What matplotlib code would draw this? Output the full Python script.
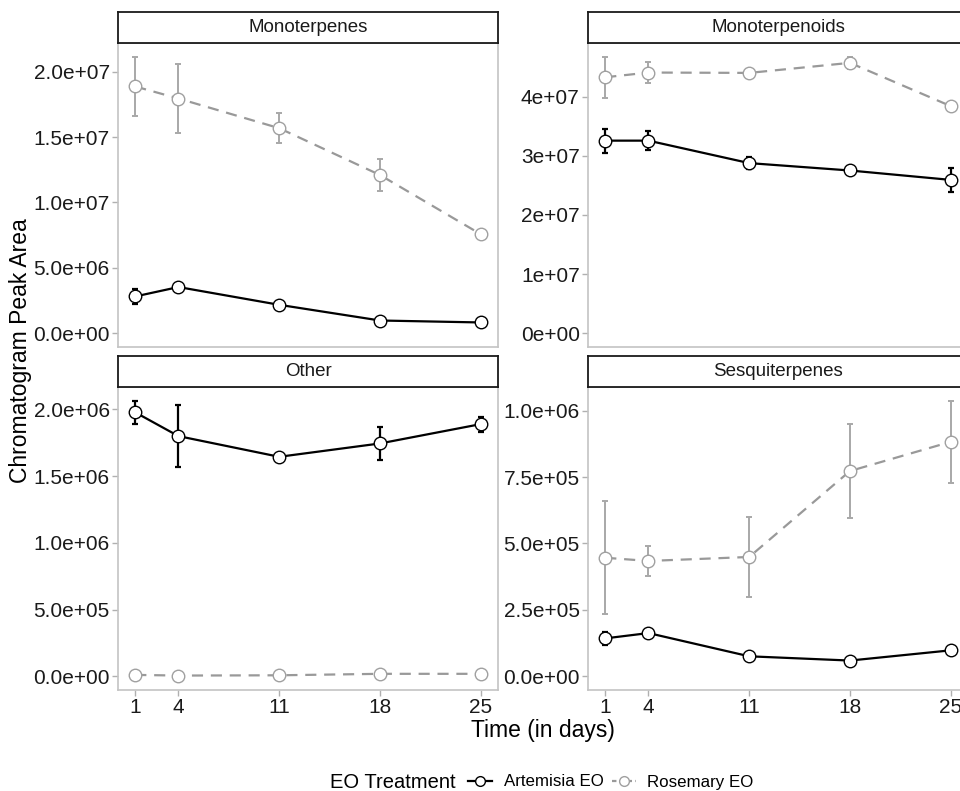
import numpy as np
import matplotlib.pyplot as plt
from matplotlib.lines import Line2D
from matplotlib.ticker import MaxNLocator, FuncFormatter

plt.rcParams['font.family'] = ['Liberation Sans', 'DejaVu Sans']

days = [1, 4, 11, 18, 25]
groups = ["Monoterpenes", "Monoterpenoids", "Other", "Sesquiterpenes"]
treatments = ["Artemisia EO", "Rosemary EO"]

# means and standard errors, per group, per treatment
art_mean = {
    "Monoterpenes":   [2.81e6, 3.53e6, 2.17e6, 0.97e6, 0.82e6],
    "Monoterpenoids": [3.257e7, 3.257e7, 2.877e7, 2.752e7, 2.593e7],
    "Other":          [1.978e6, 1.80e6, 1.645e6, 1.745e6, 1.89e6],
    "Sesquiterpenes": [1.425e5, 1.625e5, 0.75e5, 0.59e5, 0.975e5],
}
art_se = {
    "Monoterpenes":   [0.58e6, 0.12e6, 0.10e6, 0.05e6, 0.04e6],
    "Monoterpenoids": [0.204e7, 0.165e7, 0.102e7, 0.03e7, 0.204e7],
    "Other":          [0.087e6, 0.233e6, 0.01e6, 0.126e6, 0.057e6],
    "Sesquiterpenes": [0.245e5, 0.05e5, 0.03e5, 0.02e5, 0.03e5],
}
ros_mean = {
    "Monoterpenes":   [1.887e7, 1.795e7, 1.568e7, 1.210e7, 0.757e7],
    "Monoterpenoids": [4.329e7, 4.409e7, 4.403e7, 4.573e7, 3.841e7],
    "Other":          [0.010e6, 0.005e6, 0.007e6, 0.018e6, 0.018e6],
    "Sesquiterpenes": [4.46e5, 4.34e5, 4.49e5, 7.725e5, 8.825e5],
}
ros_se = {
    "Monoterpenes":   [0.227e7, 0.265e7, 0.114e7, 0.124e7, 0.02e7],
    "Monoterpenoids": [0.344e7, 0.179e7, 0.05e7, 0.102e7, 0.04e7],
    "Other":          [0.004e6, 0.003e6, 0.003e6, 0.004e6, 0.004e6],
    "Sesquiterpenes": [2.12e5, 0.58e5, 1.52e5, 1.765e5, 1.545e5],
}

W, H = 960, 791
fig = plt.figure(figsize=(W / 100, H / 100), dpi=100)

# panel boxes in pixels: (left, top, right, bottom)
boxes = [(118, 43, 498, 347), (588, 43, 968, 347),
         (118, 387, 498, 690), (588, 387, 968, 690)]
strip_h = 31

def to_fig(l, t, r, b):
    return [l / W, 1 - b / H, (r - l) / W, (b - t) / H]

def sci_fmt(ticks):
    # fewest decimals that show every tick exactly, like R's format()
    for d in range(4):
        if all(abs(float(f"{v:.{d}e}") - v) <= 1e-9 * max(1, abs(v)) for v in ticks):
            break
    return lambda v, pos: f"{v:.{d}e}"

for i, g in enumerate(groups):
    l, t, r, b = boxes[i]
    ax = fig.add_axes(to_fig(l, t, r, b))
    am, ase = np.array(art_mean[g]), np.array(art_se[g])
    rm, rse = np.array(ros_mean[g]), np.array(ros_se[g])

    ax.errorbar(days, am, yerr=ase, fmt='none', ecolor='black', elinewidth=1.6,
                capsize=2, capthick=1.6, zorder=2)
    ax.errorbar(days, rm, yerr=rse, fmt='none', ecolor='#a8a8a8', elinewidth=1.4,
                capsize=2.5, capthick=1.4, zorder=2)
    ax.plot(days, am, color='black', lw=1.6, zorder=3)
    ax.plot(days, rm, color='#999999', lw=1.6, ls=(0, (5, 3.5)), zorder=3)
    ax.plot(days, am, ls='none', marker='o', ms=9, mfc='white', mec='black', mew=1.0, zorder=4)
    ax.plot(days, rm, ls='none', marker='o', ms=9, mfc='white', mec='#a0a0a0', mew=1.0, zorder=4)

    lo = min(0, (am - ase).min(), (rm - rse).min())
    hi = max((am + ase).max(), (rm + rse).max())
    pad = 0.05 * (hi - lo)
    ax.set_ylim(lo - pad, hi + pad)
    ax.set_xlim(1 - 0.05 * 24, 25 + 0.05 * 24)

    ax.yaxis.set_major_locator(MaxNLocator(nbins=6, steps=[1, 2.5, 5, 10]))
    ylo, yhi = ax.get_ylim()
    tk = [v for v in ax.get_yticks() if ylo <= v <= yhi]
    ax.set_yticks(tk)
    ax.yaxis.set_major_formatter(FuncFormatter(sci_fmt(tk)))
    ax.set_xticks(days)

    for s in ax.spines.values():
        s.set_color('#c4c4c4')
        s.set_linewidth(1.2)
    ax.tick_params(axis='both', color='#b0b0b0', length=4, width=1.0,
                   labelsize=15, labelcolor='#1a1a1a', pad=2)
    if i < 2:
        ax.tick_params(axis='x', bottom=False, labelbottom=False)

    # strip
    sax = fig.add_axes(to_fig(l, t - strip_h, r, t))
    sax.set_xticks([])
    sax.set_yticks([])
    for s in sax.spines.values():
        s.set_color('#1a1a1a')
        s.set_linewidth(1.3)
    sax.text(0.5, 0.5, g, ha='center', va='center', fontsize=13.5, color='#1a1a1a',
             transform=sax.transAxes)

fig.text(543 / W, 1 - 730 / H, "Time (in days)", ha='center', va='center', fontsize=16.5)
fig.text(21 / W, 1 - 351 / H, "Chromatogram Peak Area", ha='center', va='center',
         rotation=90, fontsize=16.5)

fig.text(330 / W, 1 - 782 / H, "EO Treatment", ha='left', va='center', fontsize=14.5)
handles = [
    Line2D([], [], color='black', lw=1.6, marker='o', ms=7, mfc='white', mec='black'),
    Line2D([], [], color='#999999', lw=1.6, ls=(0, (2, 1.5)), marker='o', ms=7,
           mfc='white', mec='#a0a0a0'),
]
fig.legend(handles, treatments, loc='center left', bbox_to_anchor=(468 / W, 1 - 782 / H),
           ncol=2, frameon=False, fontsize=12.2, handlelength=1.4, handletextpad=0.7,
           columnspacing=0.5, borderaxespad=0, borderpad=0)

fig.savefig('out.png', dpi=100)
